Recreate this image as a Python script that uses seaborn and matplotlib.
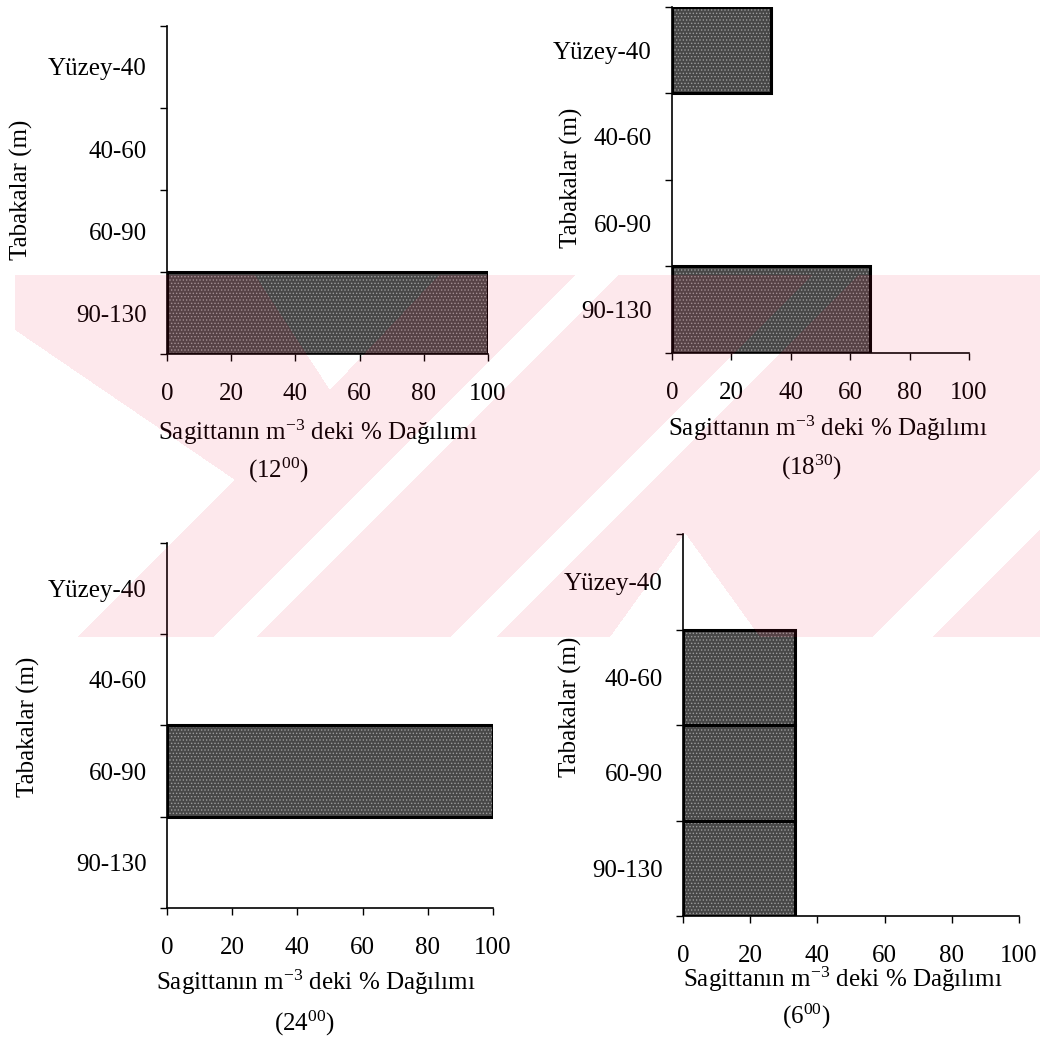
import matplotlib
matplotlib.use("Agg")
import matplotlib.pyplot as plt
from matplotlib.path import Path
import seaborn as sns
import pandas as pd
import numpy as np

# Depth layers (m) and percentage share of Sagitta per m^-3 at each sampling time
layers = ["Yüzey-40", "40-60", "60-90", "90-130"]
share_1200 = [0, 0, 0, 100]
share_1830 = [33.3, 0, 0, 66.7]
share_2400 = [0, 0, 100, 0]
share_0600 = [0, 33.3, 33.3, 33.3]
hours = ["12", "18", "24", "6"]
minutes = ["00", "30", "00", "00"]
x_ticks = [0, 20, 40, 60, 80, 100]

sns.set_theme(style="ticks")
plt.rcParams["font.family"] = ["Liberation Serif", "DejaVu Serif"]
plt.rcParams["mathtext.fontset"] = "custom"
plt.rcParams["mathtext.rm"] = "Liberation Serif"
plt.rcParams["mathtext.it"] = "Liberation Serif:italic"
plt.rcParams["mathtext.bf"] = "Liberation Serif:bold"
plt.rcParams["hatch.linewidth"] = 0.6

FS = 18
W, H = 1047, 1044
fig = plt.figure(figsize=(W / 100, H / 100), dpi=100)
fig.patch.set_facecolor("white")

# panel rectangles (figure fraction) and label placement (axes fraction)
panels = [
    dict(rect=(0.1595, 0.6609, 0.3066, 0.3142), vals=share_1200,
         ylab=(-0.452, 0.50), xlab=(0.470, -0.238), sub=(0.346, -0.354)),
    dict(rect=(0.6418, 0.6619, 0.2837, 0.3314), vals=share_1830,
         ylab=(-0.337, 0.506), xlab=(0.525, -0.217), sub=(0.468, -0.332)),
    dict(rect=(0.1595, 0.1303, 0.3114, 0.3496), vals=share_2400,
         ylab=(-0.426, 0.496), xlab=(0.457, -0.205), sub=(0.423, -0.315)),
    dict(rect=(0.6523, 0.1226, 0.3209, 0.3659), vals=share_0600,
         ylab=(-0.336, 0.547), xlab=(0.476, -0.166), sub=(0.366, -0.262)),
]

for i, pnl in enumerate(panels):
    ax = fig.add_axes(pnl["rect"])
    df = pd.DataFrame({"Tabaka": layers, "Yuzde": pnl["vals"]})
    # stippled grey fill
    sns.barplot(data=df, x="Yuzde", y="Tabaka", order=layers, orient="h",
                color="#474747", width=1.0, linewidth=0, edgecolor="#9c9c9c",
                hatch=".....", errorbar=None, ax=ax, zorder=2)
    # black outlines
    sns.barplot(data=df, x="Yuzde", y="Tabaka", order=layers, orient="h",
                fill=False, color="black", width=1.0, linewidth=2.2,
                errorbar=None, ax=ax, zorder=3)
    for p in ax.patches:
        if p.get_width() == 0:
            p.set_visible(False)

    ax.set_xlim(0, 100)
    ax.set_ylim(3.5, -0.5)
    ax.set_xticks(x_ticks)
    ax.set_xticklabels([str(t) for t in x_ticks])
    ax.set_yticks(range(len(layers)))
    ax.set_yticklabels(layers)
    ax.set_yticks([k - 0.5 for k in range(len(layers) + 1)], minor=True)
    ax.tick_params(axis="y", which="major", length=0, pad=14.5,
                   labelsize=FS, labelcolor="black")
    ax.tick_params(axis="y", which="minor", length=5, width=1.0,
                   direction="out", color="black")
    ax.tick_params(axis="x", which="major", length=5, width=1.0,
                   direction="out", pad=16, labelsize=FS,
                   color="black", labelcolor="black")
    sns.despine(ax=ax)
    for s in ("left", "bottom"):
        ax.spines[s].set_linewidth(1.2)
        ax.spines[s].set_color("black")
    ax.set_facecolor("none")

    ax.set_ylabel("Tabakalar (m)", fontsize=FS, color="black")
    ax.yaxis.set_label_coords(*pnl["ylab"])
    ax.yaxis.label.set_va("center")
    ax.set_xlabel("Sagittanın m$^{\\mathrm{-3}}$ deki % Dağılımı",
                  fontsize=FS, color="black")
    ax.xaxis.set_label_coords(*pnl["xlab"])
    ax.xaxis.label.set_va("center")
    ax.text(*pnl["sub"], "(%s$^{\\mathrm{%s}}$)" % (hours[i], minutes[i]),
            transform=ax.transAxes, ha="center", va="center",
            fontsize=FS, color="black")

# pale red diagonal-band emblem printed across the middle of the page
band_top, band_bot, band_l, band_r = 275, 637, 15, 1040
openings = [
    [(15, 330), (15, 637), (77, 637), (235, 480)],
    [(213, 637), (257, 637), (619, 275), (575, 275)],
    [(255, 275), (439, 275), (330, 390)],
    [(450, 637), (497, 637), (859, 275), (812, 275)],
    [(685, 533), (610, 637), (760, 637)],
    [(872, 637), (933, 637), (1045, 525), (1045, 464)],
]
yy, xx = np.mgrid[0:H, 0:W]
pts = np.column_stack([xx.ravel() + 0.5, yy.ravel() + 0.5])
mask = ((xx >= band_l) & (xx < band_r) & (yy >= band_top) & (yy < band_bot)).ravel()
for poly in openings:
    mask &= ~Path(poly + [poly[0]], closed=True).contains_points(pts)
tint = np.zeros((H, W, 4))
tint[..., 0] = 235 / 255
tint[..., 1] = 25 / 255
tint[..., 2] = 65 / 255
tint[..., 3] = mask.reshape(H, W) * 0.10
fig.figimage(tint, xo=0, yo=0, origin="upper", zorder=10)

fig.savefig("out.png", dpi=100, facecolor="white")
